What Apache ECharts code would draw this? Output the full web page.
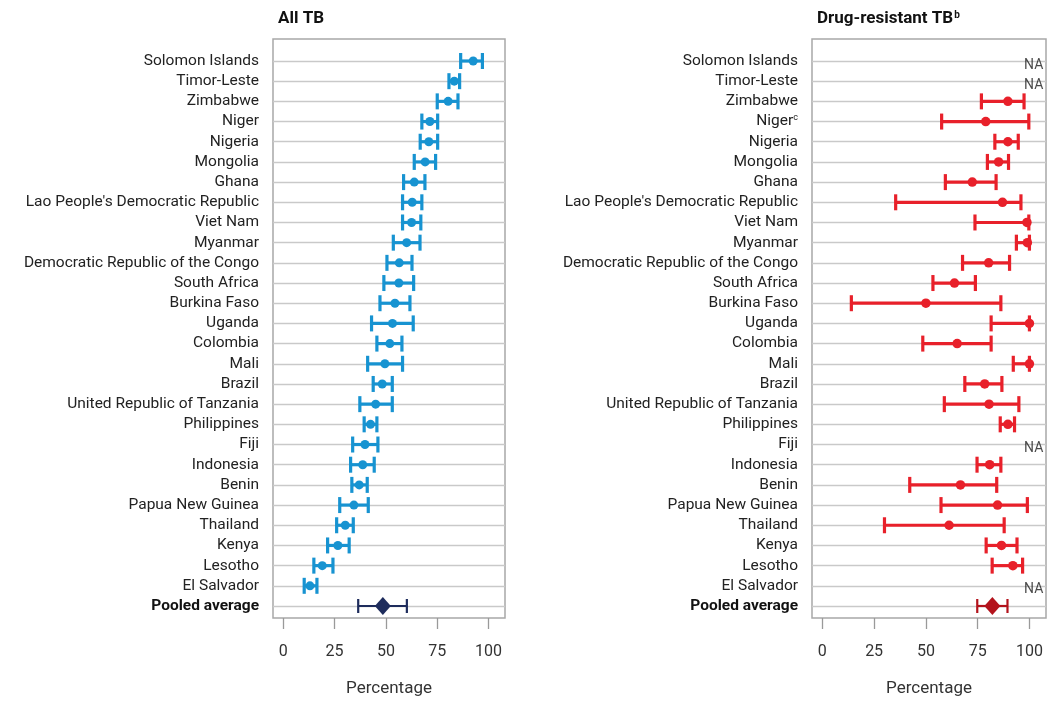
<!DOCTYPE html>
<html>
<head>
<meta charset="utf-8">
<title>TB treatment coverage</title>
<script src="https://cdn.jsdelivr.net/npm/echarts@6/dist/echarts.min.js"></script>
<style>
	html, body { margin: 0; padding: 0; background: #fff; }
	#main { width: 1061px; height: 702px; }
</style>
</head>
<body>
<div id="main"></div>
<script>
// rows, top to bottom
var countries = ['Solomon Islands', 'Timor-Leste', 'Zimbabwe', 'Niger', 'Nigeria', 'Mongolia', 'Ghana',
	"Lao People's Democratic Republic", 'Viet Nam', 'Myanmar', 'Democratic Republic of the Congo',
	'South Africa', 'Burkina Faso', 'Uganda', 'Colombia', 'Mali', 'Brazil', 'United Republic of Tanzania',
	'Philippines', 'Fiji', 'Indonesia', 'Benin', 'Papua New Guinea', 'Thailand', 'Kenya', 'Lesotho',
	'El Salvador', 'Pooled average'];

// All TB (%)
var allEst  = [92.5, 83.3, 80.3, 71.4, 70.9, 69.1, 63.8, 62.8, 62.5, 60.1, 56.5, 56.3, 54.4, 53.2,
	51.9, 49.5, 48.2, 45.0, 42.5, 39.8, 38.7, 37.0, 34.4, 30.2, 26.6, 19.0, 13.0, 48.5];
var allLow  = [86.4, 80.7, 75.0, 67.5, 66.7, 63.8, 58.6, 58.1, 58.1, 53.6, 50.5, 49.0, 47.1, 43.0,
	45.6, 41.1, 43.8, 37.3, 39.4, 33.8, 32.8, 33.4, 27.5, 26.0, 21.6, 14.9, 10.2, 36.5];
var allHigh = [97.0, 85.9, 85.1, 75.2, 75.2, 74.2, 69.0, 67.5, 67.0, 66.6, 62.7, 63.5, 61.7, 63.3,
	57.8, 58.1, 53.1, 53.1, 45.6, 46.1, 44.3, 40.9, 41.4, 34.1, 32.1, 24.2, 16.4, 60.2];

// Drug-resistant TB (%), null = NA
var drEst  = [null, null, 89.6, 78.9, 89.6, 85.1, 72.4, 87.0, 98.8, 99.0, 80.3, 63.8, 50.0, 100,
	65.1, 100, 78.4, 80.5, 89.6, null, 80.8, 66.7, 84.6, 61.2, 86.5, 92.0, null, 82.1];
var drLow  = [null, null, 76.8, 57.6, 83.3, 79.7, 59.4, 35.4, 73.7, 93.7, 67.7, 53.4, 14.0, 81.5,
	48.5, 92.2, 68.8, 58.9, 85.9, null, 74.7, 42.2, 57.3, 30.0, 79.1, 82.0, null, 74.8];
var drHigh = [null, null, 97.4, 99.7, 94.6, 89.9, 83.9, 95.9, 99.7, 100, 90.4, 73.9, 86.2, 100,
	81.5, 100, 86.7, 94.9, 92.8, null, 86.2, 84.2, 99.0, 87.8, 94.0, 96.7, null, 89.4];

var xTicks = [0, 25, 50, 75, 100];

var blue = '#1793d1', navy = '#1e2c5c', red = '#e8202a', darkRed = '#b3131c';
var labelFont = 'Roboto';
var last = countries.length - 1;

// build series data for one panel
function make_bars(est, low, high) {
	var bars = [], pts = [], pooled = [], na = [];
	for (var i = 0; i < countries.length; i++) {
		if (est[i] == null) {
			na.push([97.4, countries[i]]);
			continue;
		}
		bars.push([low[i], high[i], i]);
		if (i == last) pooled.push([est[i], countries[i]]);
		else pts.push([est[i], countries[i]]);
	}
	return { bars: bars, pts: pts, pooled: pooled, na: na };
}

function whisker(color, pooledColor) {
	return function (params, api) {
		var isPooled = api.value(2) == last;
		var a = api.coord([api.value(0), api.value(2)]);
		var b = api.coord([api.value(1), api.value(2)]);
		var h = isPooled ? 7 : 8;
		var st = { stroke: isPooled ? pooledColor : color, lineWidth: isPooled ? 2.2 : 3.2 };
		return {
			type: 'group',
			children: [
				{ type: 'line', shape: { x1: a[0], y1: a[1], x2: b[0], y2: b[1] }, style: st },
				{ type: 'line', shape: { x1: a[0], y1: a[1] - h, x2: a[0], y2: a[1] + h }, style: st },
				{ type: 'line', shape: { x1: b[0], y1: b[1] - h, x2: b[0], y2: b[1] + h }, style: st }
			]
		};
	};
}

var L = { left: 273, right: 556 };
var R = { left: 812, right: 15 };

function panel_axes(g, sup) {
	var xs = [], ys = [];
	// frame grid with the x ticks
	xs.push({
		gridIndex: g, type: 'value', min: -5, max: 108,
		axisLine: { show: false },
		axisTick: { show: true, length: 11, customValues: xTicks, lineStyle: { color: '#9a9a9a', width: 1.3 } },
		axisLabel: { customValues: xTicks, margin: 26, fontFamily: labelFont, fontSize: 16, color: '#333' },
		splitLine: { show: false },
		name: 'Percentage', nameLocation: 'middle', nameGap: 62,
		nameTextStyle: { fontFamily: labelFont, fontSize: 17, color: '#333' }
	});
	ys.push({ gridIndex: g, type: 'value', show: false, min: 0, max: 1 });
	// data grid
	xs.push({ gridIndex: g + 1, type: 'value', min: -5, max: 108, show: false });
	ys.push({
		gridIndex: g + 1, type: 'category', data: countries, inverse: true, boundaryGap: false,
		axisLine: { show: false }, axisTick: { show: false },
		splitLine: { show: true, lineStyle: { color: '#c9c9c9', width: 1.4 } },
		axisLabel: {
			interval: 0, margin: 14, fontFamily: labelFont, fontSize: 15.5, color: '#222',
			formatter: function (v) {
				if (v == 'Pooled average') return '{b|' + v + '}';
				if (sup && v == 'Niger') return v + '{s|c}';
				return v;
			},
			rich: {
				b: { fontFamily: labelFont, fontSize: 15.5, fontWeight: 'bold', color: '#111' },
				s: { fontFamily: labelFont, fontSize: 9, color: '#222', verticalAlign: 'top', padding: [0, 0, 8, 0] }
			}
		}
	});
	return { xs: xs, ys: ys };
}

var dom = document.getElementById('main');
var myChart = echarts.init(dom);

var left = make_bars(allEst, allLow, allHigh);
var right = make_bars(drEst, drLow, drHigh);
var ax1 = panel_axes(0, false);
var ax2 = panel_axes(2, true);

var option = {
	backgroundColor: '#fff',
	animation: false,
	title: [
		{ text: 'All TB', left: 273, top: 5, textStyle: { fontFamily: labelFont, fontSize: 17, fontWeight: 'bold', color: '#111' } },
		{
			text: 'Drug-resistant TB{s|b}', left: 812, top: 5,
			textStyle: {
				fontFamily: labelFont, fontSize: 17, fontWeight: 'bold', color: '#111',
				rich: { s: { fontFamily: labelFont, fontSize: 10, fontWeight: 'bold', color: '#111', verticalAlign: 'top', padding: [0, 0, 8, 1] } }
			}
		}
	],
	grid: [
		{ left: L.left, right: L.right, top: 39, bottom: 77, show: true, borderColor: '#a8a8a8', borderWidth: 1.5 },
		{ left: L.left, right: L.right, top: 61, bottom: 96 },
		{ left: R.left, right: R.right, top: 39, bottom: 77, show: true, borderColor: '#a8a8a8', borderWidth: 1.5 },
		{ left: R.left, right: R.right, top: 61, bottom: 96 }
	],
	xAxis: ax1.xs.concat(ax2.xs),
	yAxis: ax1.ys.concat(ax2.ys),
	series: [
		{ type: 'custom', xAxisIndex: 1, yAxisIndex: 1, renderItem: whisker(blue, navy), data: left.bars, encode: { x: [0, 1], y: 2 }, z: 2 },
		{ type: 'scatter', xAxisIndex: 1, yAxisIndex: 1, data: left.pts, symbol: 'circle', symbolSize: 9, itemStyle: { color: blue, opacity: 1 }, z: 3 },
		{ type: 'scatter', xAxisIndex: 1, yAxisIndex: 1, data: left.pooled, symbol: 'diamond', symbolSize: [16, 18], itemStyle: { color: navy, opacity: 1 }, z: 3 },
		{ type: 'custom', xAxisIndex: 3, yAxisIndex: 3, renderItem: whisker(red, darkRed), data: right.bars, encode: { x: [0, 1], y: 2 }, z: 2 },
		{ type: 'scatter', xAxisIndex: 3, yAxisIndex: 3, data: right.pts, symbol: 'circle', symbolSize: 9.5, itemStyle: { color: red, opacity: 1 }, z: 3 },
		{ type: 'scatter', xAxisIndex: 3, yAxisIndex: 3, data: right.pooled, symbol: 'diamond', symbolSize: [16, 18], itemStyle: { color: darkRed, opacity: 1 }, z: 3 },
		{
			type: 'scatter', xAxisIndex: 3, yAxisIndex: 3, data: right.na, symbolSize: 0, silent: true,
			label: { show: true, position: 'right', distance: 0, offset: [0, 4], formatter: 'NA', fontFamily: labelFont, fontSize: 14, color: '#1a1a1a' }
		}
	]
};

if (option && typeof option === "object") {
	myChart.setOption(option, true);
}
</script>
</body>
</html>
